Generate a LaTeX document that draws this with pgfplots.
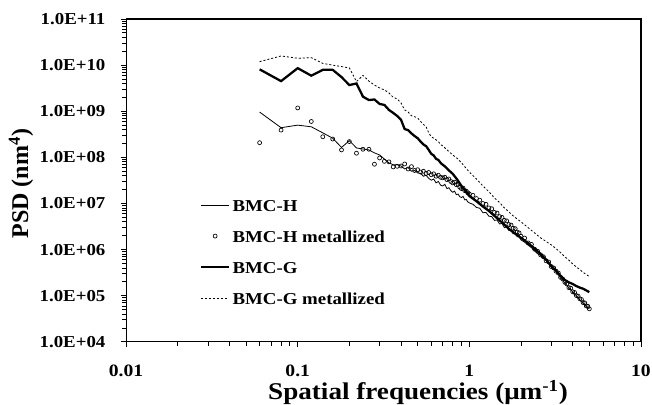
\documentclass[border=0pt]{standalone}
\usepackage{fontspec}
\setmainfont{Liberation Serif}[FakeStretch=1.13]
\newfontfamily\ylabfont{Liberation Serif}
\usepackage{pgfplots}
\pgfplotsset{compat=1.18}
\pgfplotsset{
    linelegend/.style={legend image code/.code={\draw[##1] (0pt,0pt) -- (20.5pt,0pt);}},
    marklegend/.style={legend image code/.code={\draw[mark repeat=2,mark phase=2,##1] plot coordinates {(0pt,0pt) (10.25pt,0pt) (20.5pt,0pt)};}},
}

\begin{document}
\begin{tikzpicture}
\begin{axis}[
    scale only axis,
    width=386pt, height=242pt,
    xmode=log, ymode=log,
    xmin=0.01, xmax=10, ymin=1e4, ymax=1e11,
    axis line style={line width=0.8pt},
    tick pos=left, tick align=outside,
    major tick length=4pt, minor tick length=3pt,
    every tick/.style={black, line width=0.6pt},
    xtick={0.01,0.1,1,10}, xticklabels={0.01,0.1,1,10},
    ytick={1e4,1e5,1e6,1e7,1e8,1e9,1e10,1e11},
    yticklabels={1.0E+04,1.0E+05,1.0E+06,1.0E+07,1.0E+08,1.0E+09,1.0E+10,1.0E+11},
    xticklabel style={font=\bfseries\fontsize{13}{13}\selectfont, anchor=base, yshift=-22pt},
    yticklabel style={font=\bfseries\fontsize{12.5}{12.5}\selectfont, anchor=east, xshift=-8pt},
    every axis x label/.style={at={(rel axis cs:0.567,0)}, anchor=base, yshift=-43.5pt,
        font=\bfseries\fontsize{18}{18}\selectfont},
    every axis y label/.style={at={(rel axis cs:0,0.49)}, xshift=-78.75pt, rotate=90, anchor=center,
        font=\ylabfont\bfseries\fontsize{18}{18}\selectfont},
    xlabel={Spatial frequencies (μm\textsuperscript{-1})},
    ylabel={PSD (nm\textsuperscript{4})},
    legend style={draw=none, fill=none, at={(rel axis cs:0.1437,0.445)}, anchor=north west,
        row sep=13.2pt, inner sep=0pt, font=\bfseries\fontsize{12.5}{12.5}\selectfont,
        nodes={inner sep=0pt, text height=10pt, text depth=0pt}},
    legend cell align=left,
    /tikz/every odd column/.append style={column sep=2pt},
]
% BMC-H
\addplot[black, line width=0.6pt, linelegend]
coordinates {(0.06,9.6e8)(0.08,4.4e8)(0.10,5.0e8)(0.12,4.6e8)(0.14,3.4e8)(0.16,2.6e8)(0.18,1.64e8)(0.20,2.3e8)(0.22,1.6e8)(0.24,1.52e8)(0.26,1.45e8)(0.28,1.25e8)(0.30,1.13e8)(0.32,9.2e7)(0.34,7.6e7)(0.36,6.9e7)(0.38,6.9e7)(0.40,6.5e7)(0.42,5.6e7)(0.44,6.0e7)(0.46,5.0e7)(0.48,5.2e7)(0.50,4.6e7)(0.52,4.5e7)(0.54,3.9e7)(0.56,4.1e7)(0.58,3.5e7)(0.60,3.2e7)(0.62,3.4e7)(0.64,2.8e7)(0.66,3.0e7)(0.68,2.5e7)(0.70,2.4e7)(0.72,2.6e7)(0.74,2.1e7)(0.76,2.2e7)(0.78,1.9e7)(0.80,1.75e7)(0.82,1.85e7)(0.84,1.55e7)(0.86,1.6e7)(0.88,1.4e7)(0.90,1.35e7)(0.92,1.42e7)(0.94,1.2e7)(0.96,1.22e7)(0.98,1.08e7)(1.00,1.03e7)(1.05,9.6e6)(1.10,8.2e6)(1.15,7.9e6)(1.20,6.3e6)(1.25,6.4e6)(1.30,5.3e6)(1.35,5.2e6)(1.40,4.3e6)(1.45,4.4e6)(1.50,3.6e6)(1.55,3.7e6)(1.60,3.0e6)(1.65,3.1e6)(1.70,2.6e6)(1.75,2.6e6)(1.80,2.2e6)(1.85,2.25e6)(1.90,1.9e6)(1.95,1.9e6)(2.0,1.62e6)(2.1,1.45e6)(2.2,1.25e6)(2.3,1.1e6)(2.4,9.6e5)(2.5,8.1e5)(2.6,7.5e5)(2.7,6.4e5)(2.8,5.8e5)(2.9,4.9e5)(3.0,4.4e5)(3.1,3.9e5)(3.2,3.3e5)(3.3,2.9e5)(3.4,2.4e5)(3.5,2.2e5)(3.6,1.85e5)(3.7,1.7e5)(3.8,1.45e5)(3.9,1.35e5)(4.0,1.21e5)(4.1,1.1e5)(4.2,1.0e5)(4.3,9.0e4)(4.4,8.2e4)(4.5,7.6e4)(4.6,7.0e4)(4.7,6.4e4)(4.8,6.0e4)(4.9,5.5e4)(5.0,5.2e4)};
\addlegendentry{BMC-H}
% BMC-H metallized
\addplot[black, only marks, mark=o, mark size=1.5pt, mark options={line width=0.5pt}, marklegend]
coordinates {(0.06,2.08e8)(0.08,3.9e8)(0.10,1.18e9)(0.12,6.0e8)(0.14,2.8e8)(0.16,2.5e8)(0.18,1.45e8)(0.20,2.2e8)(0.22,1.23e8)(0.24,1.5e8)(0.26,1.5e8)(0.28,7.1e7)(0.30,9.7e7)(0.32,8.2e7)(0.34,8.0e7)(0.36,6.2e7)(0.38,6.4e7)(0.40,6.5e7)(0.42,7.2e7)(0.44,5.6e7)(0.46,6.3e7)(0.48,5.2e7)(0.50,5.4e7)(0.52,4.8e7)(0.54,5.0e7)(0.56,4.5e7)(0.58,4.7e7)(0.60,4.2e7)(0.62,4.4e7)(0.64,3.9e7)(0.66,4.1e7)(0.68,3.7e7)(0.70,3.6e7)(0.72,3.7e7)(0.74,3.3e7)(0.76,3.4e7)(0.78,3.0e7)(0.80,2.8e7)(0.82,2.9e7)(0.84,2.55e7)(0.86,2.6e7)(0.88,2.25e7)(0.90,2.1e7)(0.92,2.15e7)(0.94,1.9e7)(0.96,1.85e7)(0.98,1.7e7)(1.00,1.61e7)(1.05,1.5e7)(1.10,1.28e7)(1.15,1.18e7)(1.20,1.0e7)(1.25,9.6e6)(1.30,8.0e6)(1.35,7.7e6)(1.40,6.4e6)(1.45,6.2e6)(1.50,5.2e6)(1.55,5.0e6)(1.60,4.3e6)(1.65,4.2e6)(1.70,3.5e6)(1.75,3.4e6)(1.80,2.9e6)(1.85,2.85e6)(1.90,2.4e6)(1.95,2.3e6)(2.00,1.95e6)(2.1,1.78e6)(2.2,1.4e6)(2.3,1.3e6)(2.4,1.02e6)(2.5,9.2e5)(2.6,7.7e5)(2.7,7.0e5)(2.8,5.7e5)(2.9,5.4e5)(3.0,4.3e5)(3.1,4.0e5)(3.2,3.4e5)(3.3,3.1e5)(3.4,2.5e5)(3.5,2.3e5)(3.6,1.95e5)(3.7,1.8e5)(3.8,1.5e5)(3.9,1.46e5)(4.0,1.22e5)(4.1,1.18e5)(4.2,1.01e5)(4.3,9.8e4)(4.4,8.6e4)(4.5,8.3e4)(4.6,7.1e4)(4.7,7.0e4)(4.8,6.0e4)(4.9,5.9e4)(5.0,5.2e4)};
\addlegendentry{BMC-H metallized}
% BMC-G
\addplot[black, line width=1.7pt, linelegend]
coordinates {(0.06,8.1e9)(0.08,4.5e9)(0.10,8.6e9)(0.12,5.9e9)(0.14,7.9e9)(0.16,7.9e9)(0.18,5.5e9)(0.20,3.7e9)(0.22,4.0e9)(0.24,2.07e9)(0.26,1.75e9)(0.28,1.8e9)(0.30,1.44e9)(0.32,1.37e9)(0.34,1.07e9)(0.36,9.2e8)(0.38,7.9e8)(0.40,6.5e8)(0.42,4.1e8)(0.44,3.9e8)(0.46,3.3e8)(0.48,2.9e8)(0.50,2.6e8)(0.52,2.2e8)(0.54,1.9e8)(0.56,1.75e8)(0.58,1.45e8)(0.60,1.19e8)(0.62,1.1e8)(0.64,9.3e7)(0.66,8.8e7)(0.68,7.6e7)(0.70,6.9e7)(0.72,6.4e7)(0.74,5.8e7)(0.76,5.2e7)(0.78,4.8e7)(0.80,4.4e7)(0.85,3.3e7)(0.90,2.4e7)(0.95,1.9e7)(1.00,1.45e7)(1.1,1.12e7)(1.2,8.6e6)(1.3,6.9e6)(1.4,5.4e6)(1.5,4.3e6)(1.6,3.5e6)(1.7,2.8e6)(1.8,2.4e6)(1.9,2.05e6)(2.0,1.8e6)(2.2,1.38e6)(2.4,1.05e6)(2.6,8.0e5)(2.8,6.1e5)(3.0,4.4e5)(3.2,3.5e5)(3.4,2.7e5)(3.6,2.2e5)(3.8,1.95e5)(4.0,1.8e5)(4.2,1.62e5)(4.4,1.5e5)(4.6,1.42e5)(4.8,1.3e5)(5.0,1.2e5)};
\addlegendentry{BMC-G}
% BMC-G metallized
\addplot[black, line width=0.6pt, dash pattern=on 1.5pt off 1.5pt, linelegend]
coordinates {(0.06,1.19e10)(0.08,1.58e10)(0.10,1.41e10)(0.12,1.45e10)(0.14,1.09e10)(0.16,1.0e10)(0.18,9.3e9)(0.20,8.7e9)(0.22,4.4e9)(0.24,6.0e9)(0.26,4.5e9)(0.28,3.7e9)(0.30,3.2e9)(0.32,2.9e9)(0.34,2.5e9)(0.36,2.0e9)(0.38,1.85e9)(0.40,1.51e9)(0.42,1.07e9)(0.44,9.6e8)(0.46,8.0e8)(0.48,7.6e8)(0.50,7.1e8)(0.52,6.0e8)(0.54,5.2e8)(0.56,4.6e8)(0.58,3.4e8)(0.60,2.8e8)(0.62,2.6e8)(0.64,2.4e8)(0.66,2.2e8)(0.68,1.9e8)(0.70,1.77e8)(0.75,1.4e8)(0.80,1.13e8)(0.85,9.5e7)(0.90,7.6e7)(0.95,6.0e7)(1.00,4.8e7)(1.1,3.4e7)(1.2,2.4e7)(1.3,1.8e7)(1.4,1.32e7)(1.5,1.05e7)(1.6,8.0e6)(1.7,6.6e6)(1.8,5.4e6)(1.9,4.6e6)(2.0,4.0e6)(2.2,3.0e6)(2.4,2.3e6)(2.6,1.8e6)(2.8,1.5e6)(3.0,1.27e6)(3.2,1.05e6)(3.4,8.6e5)(3.6,7.0e5)(3.8,5.9e5)(4.0,4.9e5)(4.2,4.2e5)(4.4,3.7e5)(4.6,3.2e5)(4.8,2.9e5)(5.0,2.6e5)};
\addlegendentry{BMC-G metallized}
\end{axis}
\pgfresetboundingbox
\path ([shift={(-94.5pt,-47.25pt)}]current axis.south west) rectangle ([shift={(8.25pt,14.25pt)}]current axis.north east);
\end{tikzpicture}
\end{document}
